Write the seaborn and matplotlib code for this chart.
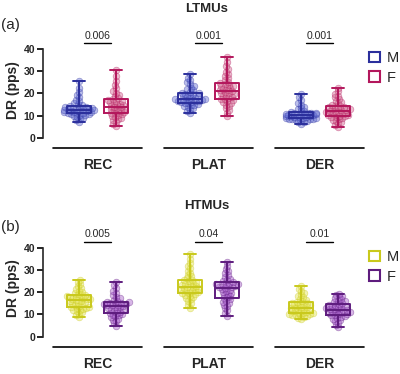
import matplotlib

matplotlib.use("Agg")

import matplotlib.pyplot as plt
import pandas as pd
import seaborn as sns
from matplotlib.patches import Patch

PHASES = ["REC", "PLAT", "DER"]
SEXES = ["M", "F"]

# LTMUs, discharge rate (pps)
LT_REC_M = [7.2, 8.0, 8.6, 9.1, 9.5, 9.9, 10.2, 10.4, 10.6, 10.8, 11.0,
            11.2, 11.4, 11.5, 11.7, 11.8, 12.0, 12.1, 12.2, 12.4, 12.5,
            12.6, 12.8, 12.9, 13.1, 13.3, 13.5, 13.7, 13.9, 14.0, 14.2,
            14.6, 15.1, 15.7, 16.4, 17.2, 18.3, 19.5, 20.8, 22.6, 25.5]
LT_REC_F = [5.5, 6.4, 7.2, 7.9, 8.5, 9.0, 9.5, 9.9, 10.3, 10.7, 11.0,
            11.3, 11.6, 11.9, 12.2, 12.5, 12.8, 13.1, 13.4, 13.7, 14.0,
            14.3, 14.7, 15.0, 15.3, 15.7, 16.0, 16.4, 16.7, 17.1, 17.4,
            18.0, 18.7, 19.4, 20.3, 21.3, 22.5, 23.9, 25.6, 27.8, 30.6]
LT_PLAT_M = [11.2, 12.0, 12.7, 13.3, 13.8, 14.2, 14.6, 14.9, 15.2, 15.5, 15.8,
             16.0, 16.2, 16.4, 16.6, 16.8, 16.9, 17.1, 17.2, 17.4, 17.5,
             17.8, 18.1, 18.4, 18.7, 19.0, 19.3, 19.6, 19.8, 20.1, 20.3,
             20.8, 21.4, 22.0, 22.7, 23.4, 24.2, 25.1, 26.0, 27.2, 28.7]
LT_PLAT_F = [9.8, 11.3, 12.5, 13.5, 14.3, 15.0, 15.6, 16.1, 16.5, 16.9, 17.3,
             17.7, 18.1, 18.5, 18.9, 19.3, 19.6, 20.0, 20.3, 20.7, 21.0,
             21.4, 21.7, 22.1, 22.4, 22.8, 23.2, 23.5, 23.9, 24.2, 24.6,
             25.3, 26.0, 26.8, 27.7, 28.6, 29.7, 30.9, 32.3, 34.2, 36.6]
LT_DER_M = [6.3, 6.9, 7.3, 7.6, 7.9, 8.1, 8.3, 8.4, 8.5, 8.6, 8.7,
            8.9, 9.0, 9.2, 9.3, 9.5, 9.6, 9.8, 9.9, 10.1, 10.2,
            10.3, 10.5, 10.6, 10.7, 10.9, 11.0, 11.1, 11.3, 11.4, 11.6,
            11.9, 12.3, 12.8, 13.4, 14.1, 14.9, 15.8, 16.9, 18.2, 19.6]
LT_DER_F = [5.0, 5.8, 6.5, 7.1, 7.6, 8.1, 8.5, 8.8, 9.2, 9.5, 9.8,
            10.0, 10.2, 10.4, 10.7, 10.9, 11.1, 11.3, 11.5, 11.8, 12.0,
            12.2, 12.5, 12.7, 12.9, 13.2, 13.4, 13.7, 14.0, 14.2, 14.5,
            15.0, 15.5, 16.1, 16.7, 17.4, 18.2, 19.0, 19.9, 21.0, 22.5]

# HTMUs, discharge rate (pps)
HT_REC_M = [8.8, 9.6, 10.3, 10.9, 11.4, 11.8, 12.1, 12.4, 12.7, 12.9, 13.1,
            13.5, 13.9, 14.3, 14.6, 15.0, 15.3, 15.6, 15.9, 16.2, 16.5,
            16.7, 16.9, 17.1, 17.3, 17.6, 17.8, 18.0, 18.2, 18.5, 18.7,
            19.1, 19.6, 20.1, 20.7, 21.3, 22.0, 22.7, 23.5, 24.4, 25.5]
HT_REC_F = [4.8, 5.9, 6.8, 7.5, 8.1, 8.6, 9.1, 9.5, 9.9, 10.2, 10.5,
            10.8, 11.2, 11.5, 11.9, 12.2, 12.5, 12.8, 13.1, 13.5, 13.8,
            14.0, 14.2, 14.4, 14.6, 14.8, 15.0, 15.2, 15.3, 15.5, 15.7,
            16.1, 16.6, 17.2, 17.9, 18.7, 19.6, 20.6, 21.7, 23.0, 24.4]
HT_PLAT_M = [12.7, 14.0, 15.1, 16.0, 16.8, 17.4, 17.9, 18.4, 18.8, 19.2, 19.5,
             19.8, 20.0, 20.3, 20.6, 20.9, 21.1, 21.4, 21.7, 21.9, 22.2,
             22.5, 22.8, 23.2, 23.5, 23.8, 24.2, 24.5, 24.9, 25.2, 25.6,
             26.3, 27.0, 27.8, 28.7, 29.6, 30.6, 31.7, 33.0, 34.8, 37.0]
HT_PLAT_F = [9.3, 10.6, 11.8, 12.8, 13.7, 14.4, 15.1, 15.7, 16.2, 16.7, 17.2,
             17.7, 18.2, 18.7, 19.2, 19.7, 20.1, 20.6, 21.1, 21.5, 22.0,
             22.2, 22.4, 22.7, 22.9, 23.1, 23.4, 23.6, 23.8, 24.1, 24.3,
             24.8, 25.4, 26.0, 26.7, 27.5, 28.4, 29.4, 30.5, 31.8, 33.4]
HT_DER_M = [8.0, 8.5, 8.9, 9.2, 9.5, 9.7, 9.9, 10.1, 10.2, 10.4, 10.5,
            10.8, 11.0, 11.3, 11.5, 11.8, 12.0, 12.3, 12.5, 12.8, 13.0,
            13.3, 13.5, 13.8, 14.0, 14.3, 14.5, 14.8, 15.0, 15.3, 15.5,
            16.0, 16.5, 17.0, 17.6, 18.2, 18.8, 19.5, 20.3, 21.5, 22.8]
HT_DER_F = [4.2, 5.3, 6.2, 6.9, 7.5, 8.0, 8.5, 8.9, 9.2, 9.5, 9.8,
            10.0, 10.2, 10.5, 10.7, 10.9, 11.1, 11.3, 11.6, 11.8, 12.0,
            12.3, 12.5, 12.8, 13.0, 13.3, 13.6, 13.8, 14.1, 14.3, 14.6,
            15.0, 15.4, 15.8, 16.2, 16.7, 17.2, 17.7, 18.2, 18.7, 19.2]

LT_PVALUES = ["0.006", "0.001", "0.001"]
HT_PVALUES = ["0.005", "0.04", "0.01"]

LT_LINE = {"M": "#2b2f9c", "F": "#b3175c"}
LT_FILL = {"M": "#5b66d0", "F": "#d0608c"}
HT_LINE = {"M": "#c9c91c", "F": "#5e1c7e"}
HT_FILL = {"M": "#e2e24a", "F": "#a254c8"}

GROUP_STEP = 3  # M, F, then an empty slot between phases
Y_LOW, Y_HIGH = -4.66, 48


def make_frame(groups):
    rows = []
    for i, phase in enumerate(PHASES):
        for j, sex in enumerate(SEXES):
            for v in groups[i][j]:
                rows.append({"phase": phase, "sex": sex, "pos": i * GROUP_STEP + j, "dr": v})
    return pd.DataFrame(rows)


def draw_panel(fig, rect, df, line_colors, fill_colors, pvalues, title, tag, title_y, tag_y, legend_y):
    ax = fig.add_axes(rect)

    sns.swarmplot(
        data=df, x="pos", y="dr", hue="sex", hue_order=SEXES, palette=fill_colors,
        native_scale=True, dodge=False, size=2.1, linewidth=0.3, legend=False, ax=ax,
    )
    swarm = list(ax.collections)
    ax.set_xlim(-0.97, 7.7)
    ax.set_ylim(Y_LOW, Y_HIGH)
    fig.canvas.draw()
    # freeze the swarm layout, then enlarge the markers so they overlap
    for coll in swarm:
        if "draw" in coll.__dict__:
            del coll.draw
        fc = coll.get_facecolor()[0]
        sex = min(SEXES, key=lambda s: sum(abs(a - b) for a, b in zip(matplotlib.colors.to_rgb(fill_colors[s]), fc[:3])))
        coll.set_facecolor(matplotlib.colors.to_rgba(fill_colors[sex], 0.42))
        coll.set_edgecolor(matplotlib.colors.to_rgba(line_colors[sex], 0.45))
        coll.set_linewidth(0.5)
        coll.set_sizes([23])

    sns.boxplot(
        data=df, x="pos", y="dr", hue="sex", hue_order=SEXES, palette=line_colors,
        native_scale=True, dodge=False, fill=False, width=0.65, whis=(0, 100),
        showfliers=False, linewidth=1.4, legend=False, ax=ax,
    )
    for artist in ax.lines:
        artist.set_zorder(4)

    ax.set_xlim(-0.97, 7.7)
    ax.set_ylim(Y_LOW, Y_HIGH)
    ax.set_xticks([])
    ax.set_xlabel("")
    ax.set_yticks([0, 10, 20, 30, 40])
    ax.set_ylabel("DR (pps)", fontsize=10, fontweight="bold", labelpad=3)
    for lab in ax.get_yticklabels():
        lab.set_fontweight("bold")
    ax.tick_params(axis="y", labelsize=7.5, length=4, width=1.2, pad=1.5, color="black")
    ax.spines["left"].set_bounds(0, 40)
    ax.spines["left"].set_linewidth(1.2)
    for side in ["top", "right", "bottom"]:
        ax.spines[side].set_visible(False)
    ax.set_facecolor("none")

    for i, phase in enumerate(PHASES):
        c = i * GROUP_STEP + 0.5
        ax.plot([c - 1.2, c + 1.2], [Y_LOW, Y_LOW], color="black", lw=1.2, clip_on=False)
        ax.text(c, Y_LOW - 7.6, phase, ha="center", va="center", fontsize=10, fontweight="bold")
        ax.plot([c - 0.37, c + 0.37], [42.7, 42.7], color="black", lw=1.0, clip_on=False)
        ax.text(c, 46.2, pvalues[i], ha="center", va="center", fontsize=7.5)

    fig.text(207 / 400, title_y, title, ha="center", va="center", fontsize=9.5, fontweight="bold")
    fig.text(0.003, tag_y, tag, ha="left", va="center", fontsize=11)

    handles = [Patch(facecolor="white", edgecolor=line_colors[s], linewidth=1.5) for s in SEXES]
    fig.legend(
        handles, SEXES, loc="upper left", bbox_to_anchor=(369 / 400, legend_y),
        frameon=False, fontsize=10.5, handlelength=0.75, handleheight=0.75,
        handletextpad=0.45, labelspacing=0.4, borderpad=0, borderaxespad=0,
    )
    return ax


def main():
    sns.set_style("ticks")
    plt.rcParams["font.family"] = ["Liberation Sans", "DejaVu Sans"]

    lt = make_frame([[LT_REC_M, LT_REC_F], [LT_PLAT_M, LT_PLAT_F], [LT_DER_M, LT_DER_F]])
    ht = make_frame([[HT_REC_M, HT_REC_F], [HT_PLAT_M, HT_PLAT_F], [HT_DER_M, HT_DER_F]])

    fig = plt.figure(figsize=(4.0, 3.74), dpi=100)
    fig.patch.set_facecolor("white")

    width = 8.67 * 37 / 400
    draw_panel(fig, [43 / 400, 1 - 148 / 374, width, 116.4 / 374], lt, LT_LINE, LT_FILL,
               LT_PVALUES, "LTMUs", "(a)", 1 - 9 / 374, 1 - 25 / 374, 1 - 51 / 374)
    draw_panel(fig, [43 / 400, 1 - 347 / 374, width, 117.3 / 374], ht, HT_LINE, HT_FILL,
               HT_PVALUES, "HTMUs", "(b)", 1 - 206 / 374, 1 - 227 / 374, 1 - 250 / 374)

    fig.savefig("out.png", dpi=100, facecolor="white")
    plt.close(fig)


if __name__ == "__main__":
    main()
